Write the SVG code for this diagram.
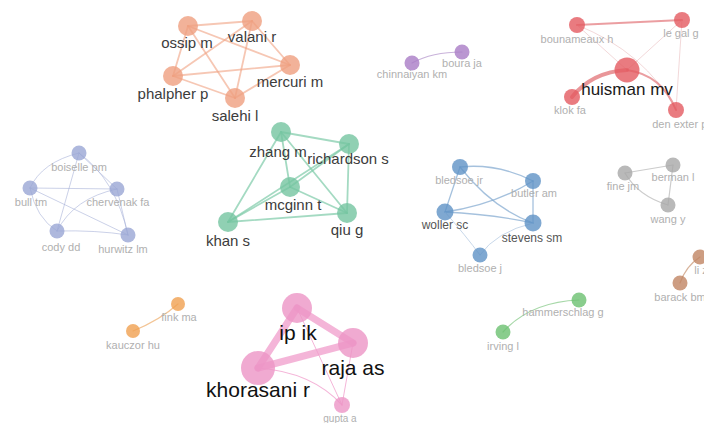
<svg xmlns="http://www.w3.org/2000/svg" width="704" height="423" viewBox="0 0 704 423">
<defs>
<style>
text{font-family:"Liberation Sans",Arial,sans-serif;text-anchor:middle}
.lg{font-size:21px;fill:#111}
.md{font-size:15px;fill:#3c3c3c}
.hm{font-size:17px;fill:#1a1a1a}
.sm{font-size:11px;fill:#b0b0b0}
.sd{font-size:12px;fill:#555}
.e{fill:none;stroke-linecap:round}
.eo{stroke:#f0a282;stroke-width:1.8;opacity:.6}
.eg{stroke:#7ecaa8;stroke-width:1.8;opacity:.7}
.eb{stroke:#a9b3d8;stroke-width:1;opacity:.6}
.eu{stroke:#7fa6cf;stroke-width:1.3;opacity:.7}
.er{stroke:#e06a6e}
.ef{stroke:#e8b8ba;stroke-width:1;opacity:.55}
.ep{stroke:#f09ccb;opacity:.75}
.n{stroke:none}
.no{fill:#ef9f80;opacity:.8}
.ng{fill:#74c4a0;opacity:.8}
.nr{fill:#e35a60;opacity:.8}
.nv{fill:#a97cc6;opacity:.8}
.nb{fill:#9aa6d4;opacity:.8}
.nu{fill:#5f92c6;opacity:.8}
.na{fill:#a8a8a8;opacity:.8}
.nw{fill:#c08563;opacity:.8}
.nk{fill:#f0a050;opacity:.8}
.nm{fill:#6cc070;opacity:.8}
.np{fill:#ec95c6;opacity:.8}
</style>
</defs>
<rect width="704" height="423" fill="#ffffff"/>
<g id="connectors">
<!-- orange -->
<line class="e eo" x1="188" y1="26" x2="252" y2="21"/>
<line class="e eo" x1="188" y1="26" x2="173" y2="76"/>
<line class="e eo" x1="188" y1="26" x2="290" y2="65"/>
<line class="e eo" x1="188" y1="26" x2="235" y2="98"/>
<line class="e eo" x1="252" y1="21" x2="173" y2="76"/>
<line class="e eo" x1="252" y1="21" x2="290" y2="65"/>
<line class="e eo" x1="252" y1="21" x2="235" y2="98"/>
<line class="e eo" x1="173" y1="76" x2="290" y2="65"/>
<line class="e eo" x1="173" y1="76" x2="235" y2="98"/>
<line class="e eo" x1="290" y1="65" x2="235" y2="98"/>
<!-- purple -->
<path class="e" d="M412,63 Q432,52 462,52" stroke="#c9b3da" stroke-width="1.2"/>
<!-- red -->
<line class="e er" x1="577" y1="25" x2="682" y2="20" stroke-width="2" opacity=".65"/>
<line class="e ef" x1="577" y1="25" x2="627" y2="70"/>
<line class="e ef" x1="682" y1="20" x2="627" y2="70"/>
<line class="e ef" x1="682" y1="20" x2="676" y2="110"/>
<path class="e ef" d="M577,25 Q645,52 676,110"/>
<path class="e er" d="M572,97 Q592,72 627,70" stroke-width="4" opacity=".7"/>
<path class="e er" d="M627,70 Q662,75 676,110" stroke-width="2" opacity=".65"/>
<!-- blue-gray -->
<path class="e eb" d="M79,153 Q42,162 30,188"/>
<line class="e eb" x1="79" y1="153" x2="117" y2="189"/>
<line class="e eb" x1="79" y1="153" x2="57" y2="231"/>
<path class="e eb" d="M79,153 Q116,180 128,235"/>
<line class="e eb" x1="30" y1="188" x2="117" y2="189"/>
<line class="e eb" x1="30" y1="188" x2="128" y2="235"/>
<path class="e eb" d="M30,188 Q36,218 57,231"/>
<path class="e eb" d="M117,189 Q74,198 57,231"/>
<line class="e eb" x1="117" y1="189" x2="128" y2="235"/>
<path class="e eb" d="M57,231 Q96,230 128,235"/>
<!-- green -->
<line class="e eg" x1="281" y1="132" x2="349" y2="144"/>
<line class="e eg" x1="281" y1="132" x2="290" y2="187"/>
<line class="e eg" x1="281" y1="132" x2="228" y2="222"/>
<line class="e eg" x1="281" y1="132" x2="347" y2="213"/>
<line class="e eg" x1="349" y1="144" x2="290" y2="187"/>
<line class="e eg" x1="349" y1="144" x2="228" y2="222"/>
<line class="e eg" x1="349" y1="144" x2="347" y2="213"/>
<line class="e eg" x1="290" y1="187" x2="228" y2="222"/>
<line class="e eg" x1="290" y1="187" x2="347" y2="213"/>
<line class="e eg" x1="228" y1="222" x2="347" y2="213"/>
<!-- blue -->
<path class="e eu" d="M460,167 Q497,163 533,181"/>
<line class="e eu" x1="460" y1="167" x2="445" y2="212"/>
<path class="e eu" d="M460,167 Q492,208 533,223"/>
<path class="e eu" d="M445,212 Q494,205 533,181"/>
<line class="e eu" x1="533" y1="181" x2="533" y2="223"/>
<path class="e eu" d="M445,212 Q490,214 533,223" stroke-width="2.2"/>
<path class="e" d="M445,212 Q466,236 480,255" stroke="#c8d8ea" stroke-width="1"/>
<path class="e" d="M533,223 Q496,232 480,255" stroke="#c8d8ea" stroke-width="1"/>
<!-- gray -->
<line class="e" x1="625" y1="173" x2="673" y2="165" stroke="#cccccc" stroke-width="1.2"/>
<path class="e" d="M625,173 Q638,196 668,205" stroke="#cccccc" stroke-width="1.2"/>
<line class="e" x1="673" y1="165" x2="668" y2="205" stroke="#cccccc" stroke-width="1.2"/>
<!-- brown -->
<path class="e" d="M700,257 Q686,266 680,283" stroke="#d8b49c" stroke-width="1.2"/>
<!-- orange small -->
<path class="e" d="M133,331 Q160,320 178,304" stroke="#f3c596" stroke-width="1.2"/>
<!-- green small -->
<path class="e" d="M503,332 Q530,302 579,300" stroke="#a7d8a8" stroke-width="1.2"/>
<!-- pink -->
<line class="e ep" x1="297" y1="308" x2="353" y2="343" stroke-width="7"/>
<line class="e ep" x1="297" y1="308" x2="258" y2="368" stroke-width="7"/>
<line class="e ep" x1="353" y1="343" x2="258" y2="368" stroke-width="7"/>
<path class="e ep" d="M258,368 Q312,372 342,405" stroke-width="1.2"/>
<line class="e ep" x1="297" y1="308" x2="342" y2="405" stroke-width="1"/>
<line class="e ep" x1="353" y1="343" x2="342" y2="405" stroke-width="1"/>
</g>
<g id="ossip-m"><circle class="n no" cx="188" cy="26" r="10"/><text class="md" x="187" y="48">ossip m</text></g>
<g id="valani-r"><circle class="n no" cx="252" cy="21" r="10"/><text class="md" x="252" y="42">valani r</text></g>
<g id="mercuri-m"><circle class="n no" cx="290" cy="65" r="10"/><text class="md" x="290" y="87">mercuri m</text></g>
<g id="phalpher-p"><circle class="n no" cx="173" cy="76" r="10"/><text class="md" x="173" y="99">phalpher p</text></g>
<g id="salehi-l"><circle class="n no" cx="235" cy="98" r="10"/><text class="md" x="235" y="121">salehi l</text></g>
<g id="chinnaiyan-km"><circle class="n nv" cx="412" cy="63" r="7.5"/><text class="sm" x="412" y="78">chinnaiyan km</text></g>
<g id="boura-ja"><circle class="n nv" cx="462" cy="52" r="7.5"/><text class="sm" x="462" y="67">boura ja</text></g>
<g id="bounameaux-h"><circle class="n nr" cx="577" cy="25" r="8"/><text class="sm" x="577" y="43">bounameaux h</text></g>
<g id="le-gal-g"><circle class="n nr" cx="682" cy="20" r="8"/><text class="sm" x="681" y="37">le gal g</text></g>
<g id="huisman-mv"><circle class="n nr" cx="627" cy="70" r="12.5"/><text class="hm" x="627" y="95">huisman mv</text></g>
<g id="klok-fa"><circle class="n nr" cx="572" cy="97" r="8"/><text class="sm" x="570" y="114">klok fa</text></g>
<g id="den-exter-pl"><circle class="n nr" cx="676" cy="110" r="8"/><text class="sm" x="681" y="128">den exter pl</text></g>
<g id="boiselle-pm"><circle class="n nb" cx="79" cy="153" r="7.5"/><text class="sm" x="79" y="171">boiselle pm</text></g>
<g id="bull-tm"><circle class="n nb" cx="30" cy="188" r="7.5"/><text class="sm" x="31" y="206">bull tm</text></g>
<g id="chervenak-fa"><circle class="n nb" cx="117" cy="189" r="7.5"/><text class="sm" x="118" y="206">chervenak fa</text></g>
<g id="cody-dd"><circle class="n nb" cx="57" cy="231" r="7.5"/><text class="sm" x="61" y="251">cody dd</text></g>
<g id="hurwitz-lm"><circle class="n nb" cx="128" cy="235" r="7.5"/><text class="sm" x="123" y="253">hurwitz lm</text></g>
<g id="zhang-m"><circle class="n ng" cx="281" cy="132" r="10"/><text class="md" x="278" y="157">zhang m</text></g>
<g id="richardson-s"><circle class="n ng" cx="349" cy="144" r="10"/><text class="md" x="348" y="164">richardson s</text></g>
<g id="mcginn-t"><circle class="n ng" cx="290" cy="187" r="10"/><text class="md" x="293" y="210">mcginn t</text></g>
<g id="khan-s"><circle class="n ng" cx="228" cy="222" r="10"/><text class="md" x="228" y="246">khan s</text></g>
<g id="qiu-g"><circle class="n ng" cx="347" cy="213" r="10"/><text class="md" x="347" y="235">qiu g</text></g>
<g id="bledsoe-jr"><circle class="n nu" cx="460" cy="167" r="8"/><text class="sm" x="459" y="184">bledsoe jr</text></g>
<g id="butler-am"><circle class="n nu" cx="533" cy="181" r="8"/><text class="sm" x="534" y="197">butler am</text></g>
<g id="woller-sc"><circle class="n nu" cx="445" cy="212" r="8.5"/><text class="sd" x="445" y="229">woller sc</text></g>
<g id="stevens-sm"><circle class="n nu" cx="533" cy="223" r="8.5"/><text class="sd" x="532" y="242">stevens sm</text></g>
<g id="bledsoe-j"><circle class="n nu" cx="480" cy="255" r="7.5"/><text class="sm" x="480" y="272">bledsoe j</text></g>
<g id="fine-jm"><circle class="n na" cx="625" cy="173" r="7.5"/><text class="sm" x="623" y="190">fine jm</text></g>
<g id="berman-l"><circle class="n na" cx="673" cy="165" r="7.5"/><text class="sm" x="673" y="181">berman l</text></g>
<g id="wang-y"><circle class="n na" cx="668" cy="205" r="7.5"/><text class="sm" x="668" y="223">wang y</text></g>
<g id="li-z"><circle class="n nw" cx="700" cy="257" r="7.5"/><text class="sm" x="701" y="274">li z</text></g>
<g id="barack-bm"><circle class="n nw" cx="680" cy="283" r="7.5"/><text class="sm" x="680" y="301">barack bm</text></g>
<g id="fink-ma"><circle class="n nk" cx="178" cy="304" r="7"/><text class="sm" x="179" y="321">fink ma</text></g>
<g id="kauczor-hu"><circle class="n nk" cx="133" cy="331" r="7"/><text class="sm" x="133" y="349">kauczor hu</text></g>
<g id="hammerschlag-g"><circle class="n nm" cx="579" cy="300" r="7.5"/><text class="sm" x="563" y="316">hammerschlag g</text></g>
<g id="irving-l"><circle class="n nm" cx="503" cy="332" r="7.5"/><text class="sm" x="503" y="350">irving l</text></g>
<g id="ip-ik"><circle class="n np" cx="297" cy="308" r="15"/><text class="lg" x="298" y="340">ip ik</text></g>
<g id="raja-as"><circle class="n np" cx="353" cy="343" r="15"/><text class="lg" x="353" y="375">raja as</text></g>
<g id="khorasani-r"><circle class="n np" cx="258" cy="368" r="17"/><text class="lg" x="258" y="397">khorasani r</text></g>
<g id="gupta-a"><circle class="n np" cx="342" cy="405" r="8"/><text class="sm" x="340" y="422" style="font-size:10px">gupta a</text></g>
</svg>
